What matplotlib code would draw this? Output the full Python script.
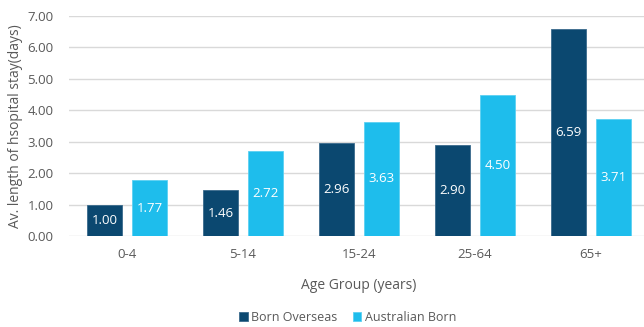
import matplotlib.pyplot as plt
import numpy as np

plt.rcParams['font.family'] = ['Open Sans', 'DejaVu Sans']

age_groups = ['0-4', '5-14', '15-24', '25-64', '65+']
born_overseas = [1.00, 1.46, 2.96, 2.90, 6.59]
australian_born = [1.77, 2.72, 3.63, 4.50, 3.71]

dark = '#0B4870'
light = '#1EBDEC'
grey = '#595959'

fig = plt.figure(figsize=(6.44, 3.27), dpi=100)
ax = fig.add_axes([69 / 644, 1 - 236 / 327, 580 / 644, 220 / 327])

x = np.arange(len(age_groups))
w = 0.30
off = 0.195
b1 = ax.bar(x - off, born_overseas, w, color=dark, edgecolor='#3A6A8C', lw=0.6,
            label='Born Overseas', zorder=3)
b2 = ax.bar(x + off, australian_born, w, color=light, edgecolor='#5CD0F2', lw=0.6,
            label='Australian Born', zorder=3)

# value labels sit in the middle of each bar
for bars, vals in [(b1, born_overseas), (b2, australian_born)]:
    for rect, v in zip(bars, vals):
        ax.text(rect.get_x() + rect.get_width() / 2, v / 2, f'{v:.2f}',
                ha='center', va='center', color='white', fontsize=9.5, zorder=4)

ax.set_xlim(-0.5, len(age_groups) - 0.5)
ax.set_ylim(0, 7)
ax.set_yticks(np.arange(0, 7.01, 1))
ax.set_yticklabels([f'{t:.2f}' for t in np.arange(0, 7.01, 1)])
ax.set_xticks(x)
ax.set_xticklabels(age_groups)
ax.grid(axis='y', color='#D9D9D9', lw=1, zorder=0)
ax.tick_params(length=0, colors=grey, labelsize=9.5)
ax.tick_params(axis='x', pad=9)
ax.tick_params(axis='y', pad=11)
for s in ax.spines.values():
    s.set_visible(False)

ax.set_ylabel('Av. length of hsopital stay(days)', color=grey, fontsize=10, labelpad=3)
ax.set_xlabel('Age Group (years)', color=grey, fontsize=10, labelpad=12)

leg = fig.legend(handles=[b1, b2], loc='center', bbox_to_anchor=(0.54, 0.03),
                 ncol=2, frameon=False, fontsize=9, handlelength=0.7,
                 handleheight=0.7, handletextpad=0.3, columnspacing=1.2)
for t in leg.get_texts():
    t.set_color(grey)

fig.savefig('out.png', dpi=100)
